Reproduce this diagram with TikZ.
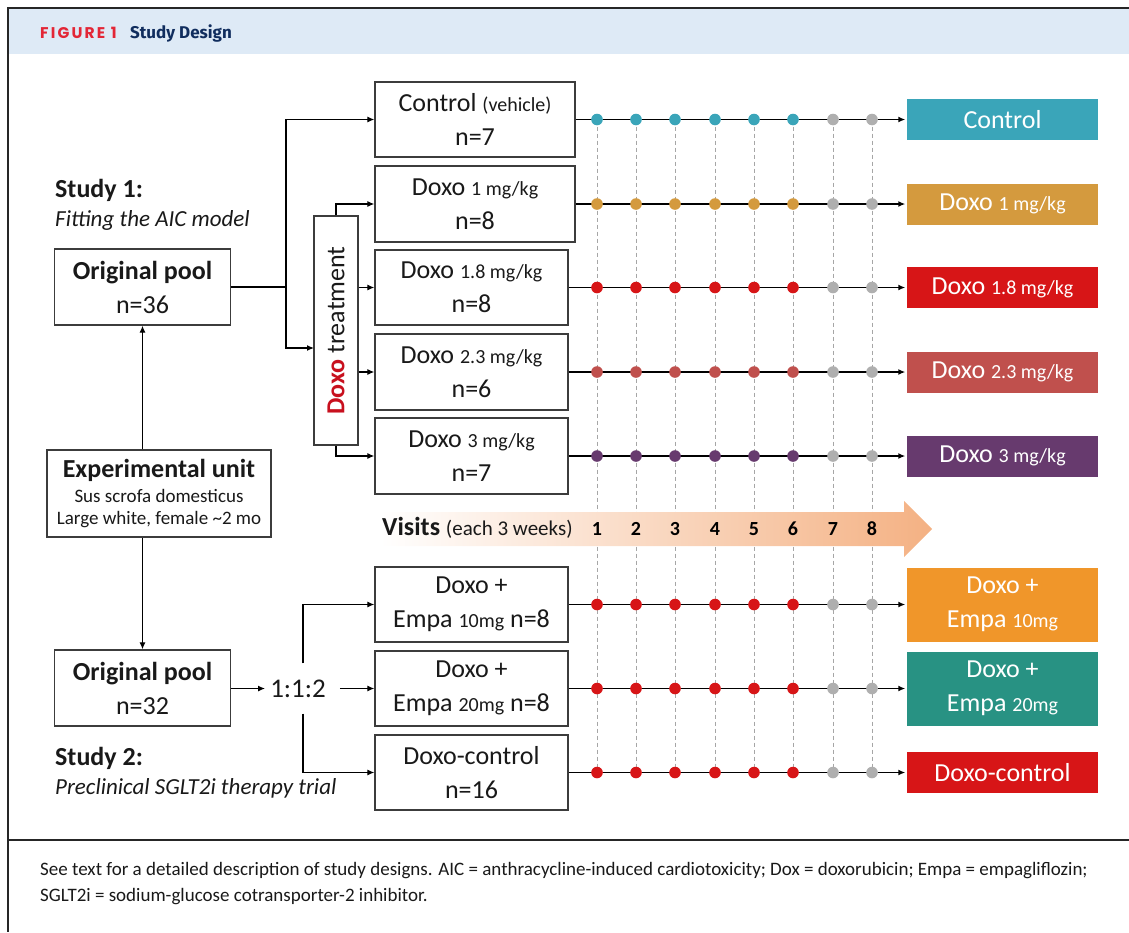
\documentclass[tikz,border=0pt]{standalone}
\usepackage{fontspec}
\setmainfont{Carlito}
\newfontfamily\headfont[LetterSpace=14]{Poppins}
\newfontfamily\titlefont{Fira Sans}
\usetikzlibrary{arrows.meta,calc}
\definecolor{cctrl}{RGB}{58,165,185}
\definecolor{cdone}{RGB}{212,154,62}
\definecolor{cdeight}{RGB}{215,21,23}
\definecolor{cdtwo}{RGB}{192,80,77}
\definecolor{cdthree}{RGB}{103,58,110}
\definecolor{ceten}{RGB}{240,150,42}
\definecolor{cetwenty}{RGB}{40,146,131}
\definecolor{dotgray}{RGB}{175,175,175}
\definecolor{peach}{RGB}{244,177,131}
\definecolor{headbg}{RGB}{222,234,246}
\definecolor{figred}{RGB}{227,38,54}
\definecolor{navy}{RGB}{16,45,94}
\definecolor{boxline}{RGB}{60,60,60}
\definecolor{doxred}{RGB}{200,16,30}
\newcommand\fs[1]{\fontsize{#1}{34}\selectfont}
\newcommand\dotrow[2]{%
  \foreach \xx [count=\ii] in {597,636,675,715,754,793,833,872}{%
    \ifnum\ii<7 \fill[#2] (\xx,#1) circle (5.8pt);\else\fill[dotgray] (\xx,#1) circle (5.8pt);\fi}}
\begin{document}
\begin{tikzpicture}[x=1pt,y=-1pt,
  wbox/.style={draw=boxline, line width=1.3pt, fill=white, align=center, inner sep=0pt,
    font=\fontsize{26}{34}\selectfont, text=black!90},
  cbox/.style={fill=#1, text=white, minimum width=191, inner sep=0pt, align=center,
    font=\fontsize{26}{34}\selectfont},
  arr/.style={-{Latex[length=7pt,width=6pt]}, line width=1.2pt},
  conn/.style={line width=1.2pt},
  tline/.style={-{Latex[length=7pt,width=6pt]}, line width=1.4pt, shorten >=1.5pt},
  vdash/.style={draw=black!35, dash pattern=on 4pt off 3pt, line width=0.8pt},
  lbl/.style={anchor=west, inner sep=0pt, text=black!90}]
\useasboundingbox (0,0) rectangle (1129,932);
% frame and header
\fill[headbg] (9,9) rectangle (1129,54);
\draw[line width=1.6pt, black!85] (1129,8) -- (8,8) -- (8,932);
\draw[line width=1.3pt, black!85] (8,840) -- (1129,840);
\node[lbl] (fig) at (40,33) {\headfont\bfseries\fontsize{15.5}{15.5}\selectfont\color{figred}FIGURE 1};
\node[lbl] (title) at (130,33) {\titlefont\bfseries\fontsize{17}{17}\selectfont\color{navy}Study Design};
% dashed visit lines
\foreach \xx in {597,636,675,715,754,793,833,872}
  \draw[vdash] (\xx,119.5) -- (\xx,772.5);
% visits arrow
\shade[left color=white, right color=peach] (380,512) -- (904,512) -- (904,501) -- (932,529) -- (904,557) -- (904,546) -- (380,546) -- cycle;
\node[lbl] (vis) at (382,528) {\fontsize{26}{26}\selectfont\bfseries Visits \mdseries\fontsize{21}{21}\selectfont(each 3 weeks)};
\foreach \xx [count=\i] in {597,636,675,715,754,793,833,872}
  \node[font=\fontsize{20}{20}\selectfont\bfseries, inner sep=0pt] (v\i) at (\xx,529) {\i};
% left column
\node[lbl, font=\fontsize{26}{26}\selectfont\bfseries] (s1) at (55,190) {Study 1:};
\node[lbl, font=\fontsize{23}{23}\selectfont\itshape] (s1b) at (55,220) {Fitting the AIC model};
\node[wbox, minimum width=176, minimum height=76] (pool1) at (142.5,287) {\textbf{Original pool}\\n=36};
\node[wbox, minimum width=224, minimum height=87, font=\fontsize{19}{22}\selectfont] (exp) at (159,493.5)
  {{\fontsize{26}{26}\selectfont\bfseries Experimental unit}\\[3pt]Sus scrofa domesticus\\Large white, female \textasciitilde2 mo};
\node[wbox, minimum width=176, minimum height=76] (pool2) at (142.5,688) {\textbf{Original pool}\\n=32};
\node[lbl, font=\fontsize{26}{26}\selectfont\bfseries] (s2) at (55,758) {Study 2:};
\node[lbl, font=\fontsize{23}{23}\selectfont\itshape] (s2b) at (55,788) {Preclinical SGLT2i therapy trial};
\draw[arr] (exp.north -| pool1.south) -- (pool1.south);
\draw[arr] (exp.south -| pool2.north) -- (pool2.north);
% study 1 groups
\node[wbox, minimum width=200, minimum height=75] (ctrl) at (475,119.5) {Control {\fs{20}(vehicle)}\\n=7};
\node[wbox, minimum width=200, minimum height=76] (d1) at (475,204) {Doxo {\fs{20}1 mg/kg}\\n=8};
\node[wbox, minimum width=193, minimum height=75] (d18) at (471.5,287.5) {Doxo {\fs{20}1.8 mg/kg}\\n=8};
\node[wbox, minimum width=193, minimum height=76] (d23) at (471.5,372) {Doxo {\fs{20}2.3 mg/kg}\\n=6};
\node[wbox, minimum width=193, minimum height=76] (d3) at (471.5,456) {Doxo {\fs{20}3 mg/kg}\\n=7};
\node[wbox, minimum width=44, minimum height=229] (treat) at (336,330.5)
  {\rotatebox{90}{{\color{doxred}\bfseries Doxo} treatment}};
\coordinate (j1) at (286,287);
\coordinate (tin) at (314,348);
\draw[conn] (pool1.east) -- (j1);
\draw[arr] (j1) |- (ctrl.west);
\draw[arr] (j1) |- (tin);
\draw[arr] (treat.north) |- (d1.west);
\draw[arr] (treat.east |- d18.west) -- (d18.west);
\draw[arr] (treat.east |- d23.west) -- (d23.west);
\draw[arr] (treat.south) |- (d3.west);
% study 2 groups
\node[wbox, minimum width=193, minimum height=75] (e10) at (471.5,604.5) {Doxo +\\Empa {\fs{20}10mg} n=8};
\node[wbox, minimum width=193, minimum height=75] (e20) at (471.5,688.5) {Doxo +\\Empa {\fs{20}20mg} n=8};
\node[wbox, minimum width=193, minimum height=75] (dc) at (471.5,772.5) {Doxo-control\\n=16};
\node[inner xsep=5pt, minimum height=50, font=\fontsize{27}{27}\selectfont, text=black!90] (ratio) at (298,688.5) {1:1:2};
\draw[arr] (pool2.east |- ratio.west) -- (ratio.west);
\draw[arr] ([xshift=9pt]ratio.east) -- (e20.west);
\draw[arr] ([xshift=5pt]ratio.north) |- (e10.west);
\draw[arr] ([xshift=5pt]ratio.south) |- (dc.west);
% outcome boxes
\node[cbox=cctrl, minimum height=41] (rctrl) at (1002.5,119.5) {Control};
\node[cbox=cdone, minimum height=41] (rd1) at (1002.5,204) {Doxo {\fs{20}1 mg/kg}};
\node[cbox=cdeight, minimum height=41] (rd18) at (1002.5,287.5) {Doxo {\fs{20}1.8 mg/kg}};
\node[cbox=cdtwo, minimum height=41] (rd23) at (1002.5,372) {Doxo {\fs{20}2.3 mg/kg}};
\node[cbox=cdthree, minimum height=41] (rd3) at (1002.5,456) {Doxo {\fs{20}3 mg/kg}};
\node[cbox=ceten, minimum height=74] (re10) at (1002.5,604.5) {Doxo +\\Empa {\fs{20}10mg}};
\node[cbox=cetwenty, minimum height=74] (re20) at (1002.5,688.5) {Doxo +\\Empa {\fs{20}20mg}};
\node[cbox=cdeight, minimum height=41] (rdc) at (1002.5,772.5) {Doxo-control};
% timelines
\draw[tline] (ctrl.east) -- (rctrl.west); \dotrow{119.5}{cctrl}
\draw[tline] (d1.east) -- (rd1.west); \dotrow{204}{cdone}
\draw[tline] (d18.east) -- (rd18.west); \dotrow{287.5}{cdeight}
\draw[tline] (d23.east) -- (rd23.west); \dotrow{372}{cdtwo}
\draw[tline] (d3.east) -- (rd3.west); \dotrow{456}{cdthree}
\draw[tline] (e10.east) -- (re10.west); \dotrow{604.5}{cdeight}
\draw[tline] (e20.east) -- (re20.west); \dotrow{688.5}{cdeight}
\draw[tline] (dc.east) -- (rdc.west); \dotrow{772.5}{cdeight}
% caption
\node[lbl, font=\fontsize{19}{19}\selectfont] (cap1) at (40,871) {See text for a detailed description of study designs. AIC = anthracycline-induced cardiotoxicity; Dox = doxorubicin; Empa = empagliflozin;};
\node[lbl, font=\fontsize{19}{19}\selectfont] (cap2) at (40,897) {SGLT2i = sodium-glucose cotransporter-2 inhibitor.};
\end{tikzpicture}
\end{document}
